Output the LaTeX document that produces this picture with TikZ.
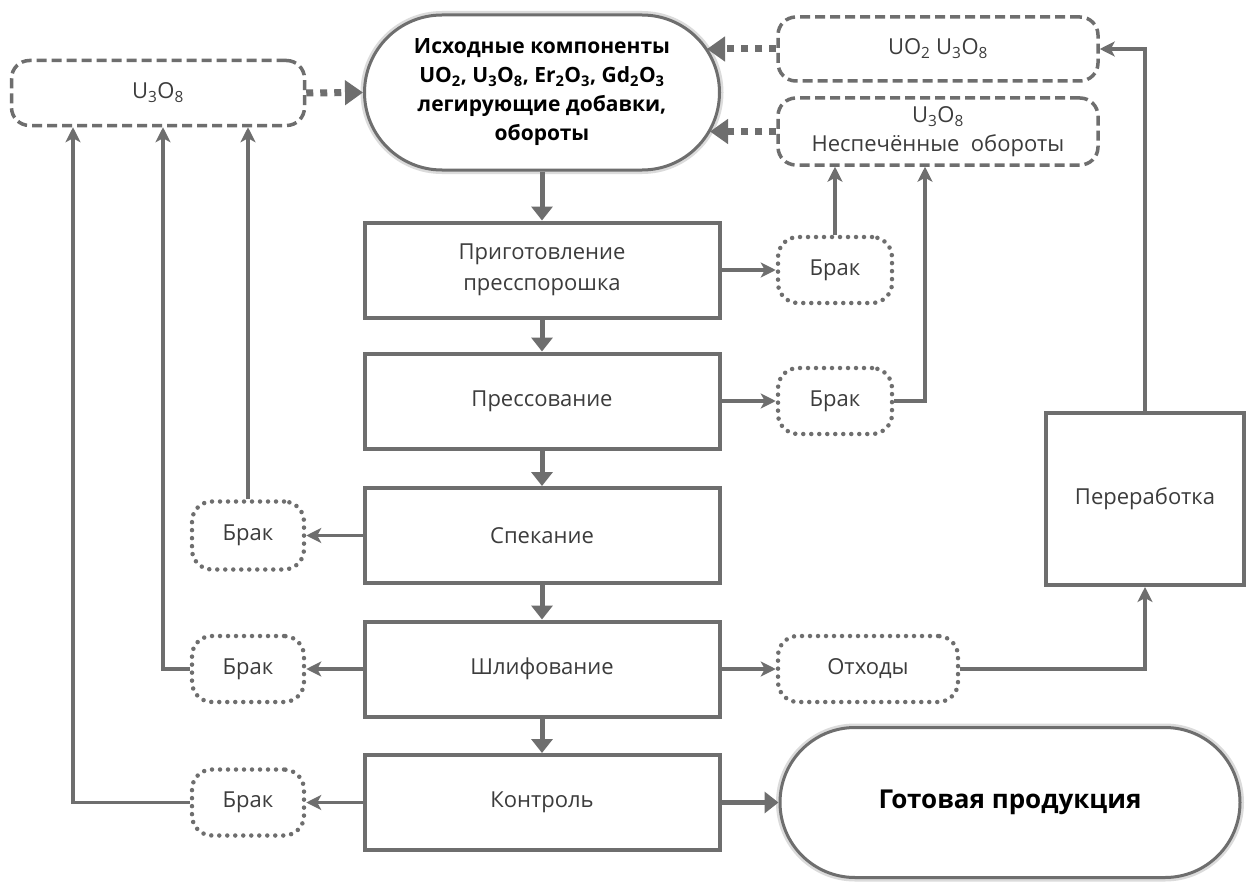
\documentclass[tikz,border=0pt]{standalone}
\usepackage{fontspec}
\setmainfont{Open Sans}
\usetikzlibrary{arrows.meta,shapes.misc}
\definecolor{lc}{HTML}{6E6E6E}
\definecolor{tc}{HTML}{3C3C3C}
\begin{document}
\begin{tikzpicture}[x=1pt,y=-1pt,
  every node/.style={font=\fontsize{22}{31}\selectfont, text=tc, align=center},
  proc/.style={draw=lc, line width=4pt, fill=white, minimum width=355pt, minimum height=95pt, inner sep=0pt},
  stad/.style={rounded rectangle, draw=lc, line width=3pt, fill=white, inner sep=0pt,
     preaction={draw=lc!25, line width=8pt}},
  dbox/.style={draw=lc, line width=3.5pt, dash pattern=on 10pt off 5pt, rounded corners=18pt, inner sep=0pt},
  rej/.style={draw=lc, line width=4.5pt, dash pattern=on 0pt off 8pt, line cap=round, rounded corners=20pt, inner sep=0pt},
  mainarr/.style={draw=lc, line width=5pt, -{Triangle[length=14pt,width=21pt]}},
  thinarr/.style={draw=lc, line width=3.5pt, -{Stealth[length=15pt,width=15pt,inset=4pt]}},
  feed/.style={draw=lc, line width=7pt, dash pattern=on 7pt off 7pt, -{Triangle[length=18pt,width=24pt]}},
]
\useasboundingbox (0,0) rectangle (1254,883);
\fill[white] (0,0) rectangle (1254,883);

% top row
\node[dbox, minimum width=293pt, minimum height=65pt] (u3l) at (158,93) {U\textsubscript{3}O\textsubscript{8}};
\node[stad, minimum width=355pt, minimum height=155pt, text=black,
      font=\bfseries\fontsize{21}{29}\selectfont] (src) at (542,92.5)
  {Исходные компоненты\\ UO\textsubscript{2}, U\textsubscript{3}O\textsubscript{8}, Er\textsubscript{2}O\textsubscript{3}, Gd\textsubscript{2}O\textsubscript{3}\\ легирующие добавки,\\ обороты};
\node[dbox, minimum width=320pt, minimum height=64pt] (b1) at (938,49) {UO\textsubscript{2} U\textsubscript{3}O\textsubscript{8}};
\node[dbox, minimum width=320pt, minimum height=67pt, font=\fontsize{22}{29}\selectfont] (b2) at (938,131.5) {U\textsubscript{3}O\textsubscript{8}\\ Неспечённые\ \ обороты};
\coordinate (srcA) at (707,49);
\coordinate (srcB) at (710,131.5);

% process column
\node[proc] (p1) at (542,270) {Приготовление\\ пресспорошка};
\node[proc] (p2) at (542,401) {Прессование};
\node[proc] (p3) at (542,535.5) {Спекание};
\node[proc] (p4) at (542,669) {Шлифование};
\node[proc] (p5) at (542,802.5) {Контроль};

% rejects
\node[rej, minimum width=114pt, minimum height=66pt] (r1) at (835,270) {Брак};
\node[rej, minimum width=114pt, minimum height=66pt] (r2) at (835,401) {Брак};
\node[rej, minimum width=112pt, minimum height=68pt] (l1) at (248,535.5) {Брак};
\node[rej, minimum width=112pt, minimum height=66pt] (l2) at (248,669) {Брак};
\node[rej, minimum width=112pt, minimum height=66pt] (l3) at (248,802.5) {Брак};
\node[rej, minimum width=180pt, minimum height=66pt] (waste) at (868,669) {Отходы};

\node[proc, minimum width=198pt, minimum height=172pt] (rec) at (1145,499) {Переработка};
\node[stad, minimum width=460pt, minimum height=150pt, text=black,
      font=\bfseries\fontsize{26}{32}\selectfont] (fin) at (1010,802.5) {Готовая продукция};

% main flow
\draw[mainarr] (src) -- (p1);
\draw[mainarr] (p1) -- (p2);
\draw[mainarr] (p2) -- (p3);
\draw[mainarr] (p3) -- (p4);
\draw[mainarr] (p4) -- (p5);
\draw[mainarr] (p5) -- (fin);

% feeds into source
\draw[feed] (u3l.east) -- (src.west);
\draw[feed] (b1.west) -- (srcA);
\draw[feed] (b2.west) -- (srcB);

% reject branches
\draw[thinarr] (p1) -- (r1);
\draw[thinarr] (p2) -- (r2);
\draw[thinarr] (p3) -- (l1);
\draw[thinarr] (p4) -- (l2);
\draw[thinarr] (p5) -- (l3);
\draw[thinarr] (p4) -- (waste);

\draw[thinarr] (r1.north) -- (r1.north |- b2.south);
\draw[thinarr] (r2.east) -| ([xshift=-13pt]b2.south);
\draw[thinarr] (l1.north) -- (l1.north |- u3l.south);
\draw[thinarr] (l2.west) -| ([xshift=5pt]u3l.south);
\draw[thinarr] (l3.west) -| ([xshift=-85pt]u3l.south);
\draw[thinarr] (waste.east) -| (rec.south);
\draw[thinarr] (rec.north) |- (b1.east);
\end{tikzpicture}
\end{document}
